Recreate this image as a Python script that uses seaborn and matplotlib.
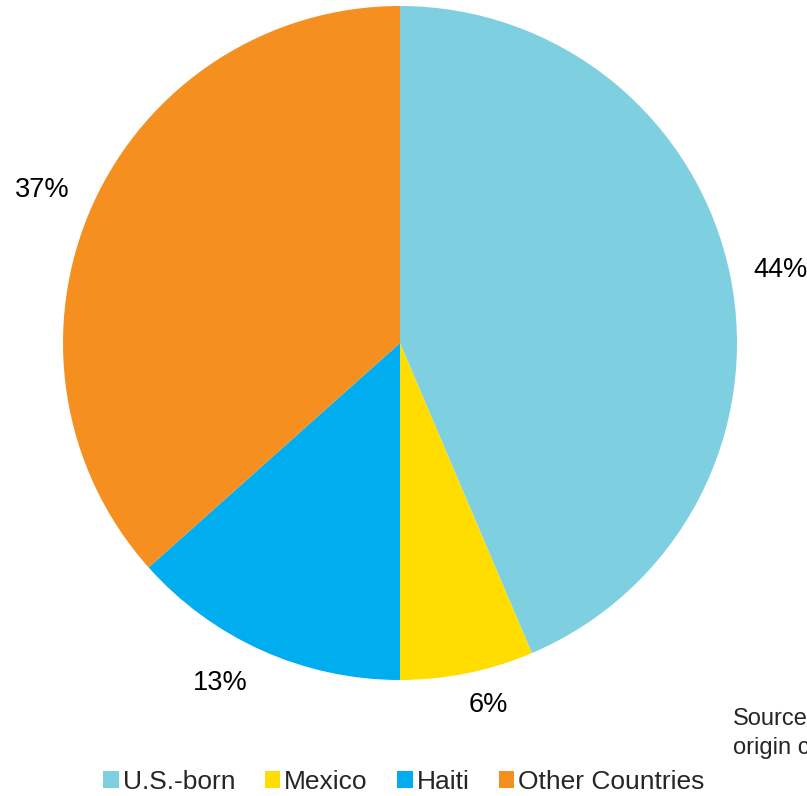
import matplotlib
matplotlib.use("Agg")
import matplotlib.pyplot as plt
import seaborn as sns

# data
categories = ["U.S.-born", "Mexico", "Haiti", "Other Countries"]
shares = [43.6, 6.4, 13.4, 36.6]
colors = ["#7ECFE0", "#FFDD00", "#00AEEF", "#F58F20"]

# label spots (pixels) as laid out in the original
label_px = [(780, 270), (488, 705), (220, 683), (42, 190)]

sns.set_theme(style="white")
plt.rcParams["font.family"] = ["Liberation Sans", "DejaVu Sans"]

W, H = 807, 796
fig = plt.figure(figsize=(W / 100, H / 100), dpi=100)
ax = fig.add_axes([0, 0, 1, 1])

wedges, texts, autotexts = ax.pie(
    shares,
    colors=sns.color_palette(colors),
    startangle=90,
    counterclock=False,
    center=(400, H - 343),
    radius=337,
    autopct=lambda p: "%d%%" % round(p),
    frame=True,
    wedgeprops={"linewidth": 0},
    textprops={"fontsize": 19.5, "color": "black"},
)
ax.set_xlim(0, W)
ax.set_ylim(0, H)
ax.set_aspect("equal")
ax.axis("off")

for t, (px, py) in zip(autotexts, label_px):
    t.set_position((px, H - py))
    t.set_ha("center")
    t.set_va("center")

ax.text(733, H - 719, "Source", fontsize=17, va="center", ha="left")
ax.text(733, H - 748, "origin c", fontsize=17, va="center", ha="left")

fig.legend(
    wedges, categories,
    loc="center", bbox_to_anchor=(404 / W, 14 / H),
    ncol=4, frameon=False, fontsize=19,
    handlelength=0.6, handleheight=0.6, handletextpad=0.15,
    columnspacing=1.1,
)

fig.savefig("out.png", dpi=100)
